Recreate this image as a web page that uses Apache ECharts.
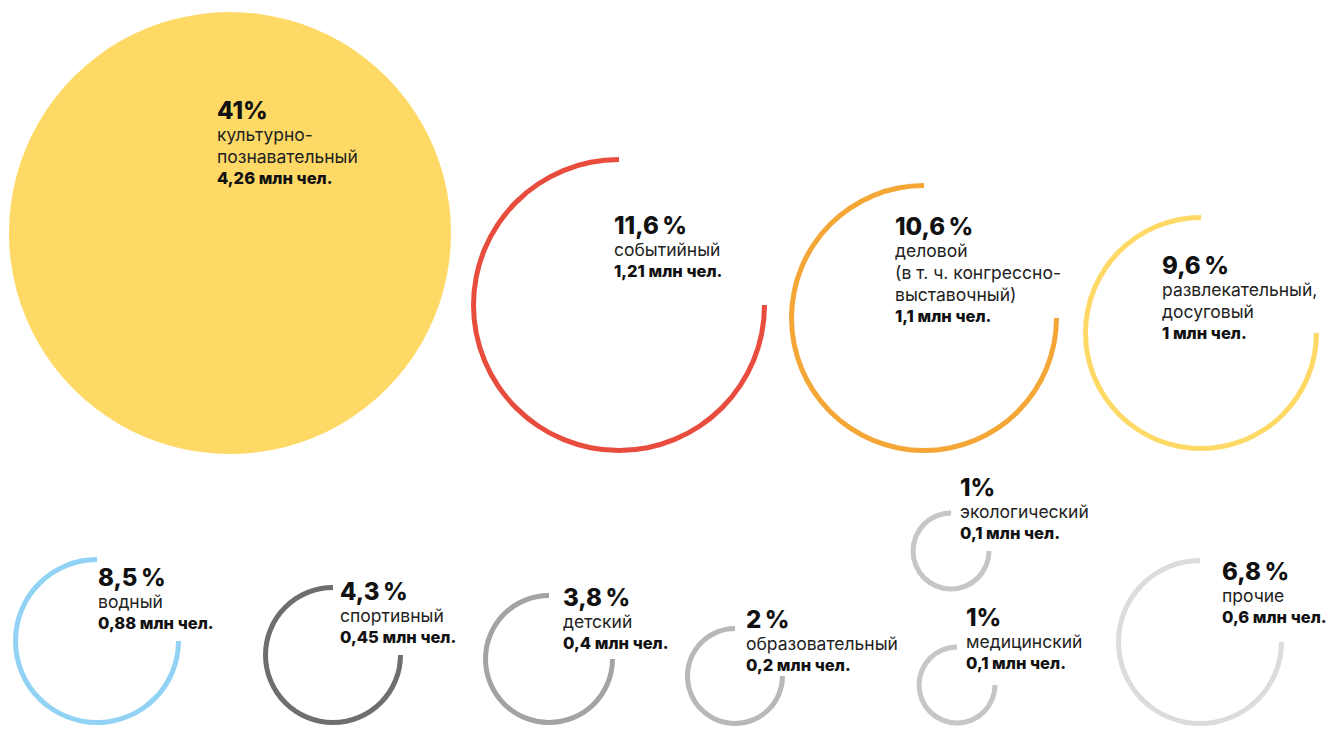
<!DOCTYPE html>
<html><head><meta charset="utf-8">
<script src="https://cdn.jsdelivr.net/npm/echarts@6/dist/echarts.min.js"></script>
<style>html,body{margin:0;padding:0;background:#fff}#c{width:1330px;height:729px}</style>
</head><body><div id="c"></div>
<script>
// ---- data ----
const categories = [
  ['культурно-', 'познавательный'],
  ['событийный'],
  ['деловой', '(в т. ч. конгрессно-', 'выставочный)'],
  ['развлекательный,', 'досуговый'],
  ['водный'],
  ['спортивный'],
  ['детский'],
  ['образовательный'],
  ['экологический'],
  ['медицинский'],
  ['прочие']
];
const shareLabels = ['41%', '11,6\u202F%', '10,6\u202F%', '9,6\u202F%', '8,5\u202F%', '4,3\u202F%', '3,8\u202F%', '2\u202F%', '1%', '1%', '6,8\u202F%'];
const shares = [41, 11.6, 10.6, 9.6, 8.5, 4.3, 3.8, 2, 1, 1, 6.8];
const visitorsMln = [4.26, 1.21, 1.1, 1, 0.88, 0.45, 0.4, 0.2, 0.1, 0.1, 0.6];

// ---- layout (positions / sizes / styles) ----
const centerX = [230, 619, 924, 1201, 97, 333, 549, 735, 951, 957, 1200];
const centerY = [233, 305, 318, 333, 641, 655, 659, 676, 551, 685, 642];
const radius  = [221, 148, 135, 118, 84, 70, 66, 50, 40.5, 40.5, 84];
const labelX  = [218, 615, 896, 1163, 99, 341, 564, 747, 961, 967, 1223];
const labelY  = [102, 217, 218, 257, 569, 583, 589, 611, 479, 609, 563];
const colors  = ['#FFD966', '#E84C3D', '#F4A636', '#FFD966', '#92D3F5', '#6E6E6E',
                 '#A3A3A3', '#B8B8B8', '#C6C6C6', '#C6C6C6', '#DCDCDC'];
const filled  = [true, false, false, false, false, false, false, false, false, false, false];
const ringWidth = 5;
const FONT = 'Inter';

function fmtNum(v) { return String(v).replace('.', ','); }

const seriesData = shares.map((s, i) => ({ name: categories[i].join(' '), value: [centerX[i], centerY[i], radius[i], i, s, visitorsMln[i]] }));

const chart = echarts.init(document.getElementById('c'), null, { renderer: 'svg' });
chart.setOption({
  animation: false,
  grid: { left: 0, right: 0, top: 0, bottom: 0 },
  xAxis: { type: 'value', min: 0, max: 1330, show: false },
  yAxis: { type: 'value', min: 0, max: 729, inverse: true, show: false },
  series: [{
    type: 'custom',
    coordinateSystem: 'cartesian2d',
    data: seriesData,
    renderItem: function (params, api) {
      const i = api.value(3);
      const c = api.coord([api.value(0), api.value(1)]);
      const r = api.size([api.value(2), 0])[0];
      const lp = api.coord([labelX[i], labelY[i]]);
      const children = [];
      if (filled[i]) {
        children.push({ type: 'circle', shape: { cx: c[0], cy: c[1], r: r }, style: { fill: colors[i] } });
      } else {
        children.push({ type: 'sector', shape: { cx: c[0], cy: c[1], r: r, r0: r - ringWidth,
          startAngle: 0, endAngle: Math.PI * 1.5, clockwise: true }, style: { fill: colors[i] } });
      }
      const lines = ['{p|' + shareLabels[i] + '}']
        .concat(categories[i].map(t => '{n|' + t + '}'))
        .concat(['{v|' + fmtNum(api.value(5)) + ' млн чел.}']);
      children.push({ type: 'text', style: {
        x: lp[0] - 1, y: lp[1] - 5, text: lines.join('\n'), align: 'left', verticalAlign: 'top',
        fill: '#111',
        rich: {
          p: { fontFamily: FONT, fontSize: 24, fontWeight: 800, lineHeight: 26, fill: '#111' },
          n: { fontFamily: FONT, fontSize: 17.5, fontWeight: 'normal', lineHeight: 22, fill: '#222' },
          v: { fontFamily: FONT, fontSize: 16.5, fontWeight: 800, lineHeight: 21, fill: '#111' }
        }
      } });
      return { type: 'group', children: children };
    }
  }]
});
</script>
</body></html>
